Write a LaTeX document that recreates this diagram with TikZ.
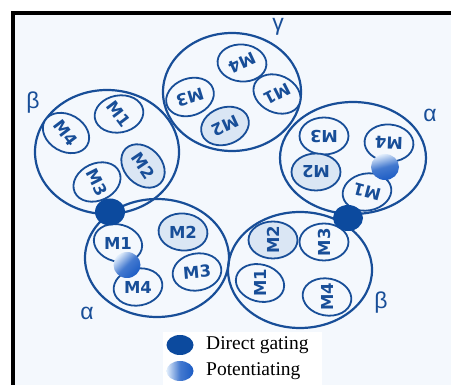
\documentclass[tikz,border=0pt]{standalone}
\usepackage{fontspec}
\setmainfont{Liberation Serif}
\newfontfamily\mfont{DejaVu Sans}
\newfontfamily\gfont{Liberation Sans}
\usetikzlibrary{shapes.geometric}
\definecolor{cblue}{RGB}{24,78,152}
\definecolor{mfill}{RGB}{218,230,244}
\definecolor{bgc}{RGB}{244,248,253}
\definecolor{dgc}{RGB}{12,74,158}
\definecolor{ptdark}{RGB}{28,92,196}
\definecolor{ptlight}{RGB}{226,238,252}
\newcommand{\rtxt}[2]{\makebox[0pt]{\smash{\rotatebox[origin=c]{#1}{\raisebox{-0.5\height}{#2}}}}}
\tikzset{
  bigc/.style={ellipse, draw=cblue, line width=2.2pt, inner sep=0pt},
  mell/.style={ellipse, draw=cblue, line width=1.8pt, fill=bgc, inner sep=0pt, minimum width=49pt, minimum height=37pt,
     font=\mfont\bfseries\fontsize{16.5}{16.5}\selectfont, text=cblue},
  mfilled/.style={mell, fill=mfill},
  glabel/.style={font=\gfont\fontsize{23}{23}\selectfont, text=cblue, inner sep=0pt},
  dgdot/.style={ellipse, fill=dgc, draw=none, inner sep=0pt},
  ptdot/.style={ellipse, draw=none, inner sep=0pt, left color=ptlight, right color=ptdark, middle color=ptdark!80!ptlight},
  legtext/.style={font=\fontsize{19.5}{19.5}\selectfont, anchor=west, inner sep=0pt}
}
\begin{document}
\begin{tikzpicture}[x=1pt,y=-1pt]
\useasboundingbox (0,0) rectangle (451,385);
\fill[white] (0,0) rectangle (451,385);
\fill[bgc] (13,13) rectangle (451,385);
\draw[line width=3.8pt, black] (13,385) -- (13,13) -- (451,13);
\fill[white] (163,332) rectangle (322,385);

% big subunits
\node[bigc, minimum width=144pt, minimum height=124pt] (bTL) at (107,152) {};
\node[bigc, minimum width=138pt, minimum height=118pt] (gT) at (232,92) {};
\node[bigc, minimum width=146pt, minimum height=112pt] (aR) at (353,158) {};
\node[bigc, minimum width=144pt, minimum height=118pt] (aBL) at (157,258) {};
\node[bigc, minimum width=144pt, minimum height=116pt] (bBR) at (300,270) {};

% beta top-left
\node[mell, rotate=10] (b1M1) at (119,114) {\rtxt{-63}{M1}};
\node[mell, rotate=-30] (b1M4) at (66,133) {\rtxt{-23}{M4}};
\node[mfilled, rotate=-45] (b1M2) at (143,166) {\rtxt{-11}{M2}};
\node[mell, rotate=25] (b1M3) at (97,182) {\rtxt{-88}{M3}};

% gamma
\node[mell, rotate=-5] (gM4) at (242,63) {\rtxt{210}{M4}};
\node[mell, rotate=20] (gM3) at (190,97) {\rtxt{177}{M3}};
\node[mell, rotate=-25] (gM1) at (277,94) {\rtxt{232}{M1}};
\node[mfilled, rotate=20] (gM2) at (225,126) {\rtxt{185}{M2}};

% alpha right
\node[mell] (a1M3) at (324,136) {\rtxt{180}{M3}};
\node[mell, rotate=-5] (a1M4) at (389,143) {\rtxt{183}{M4}};
\node[mfilled] (a1M2) at (316,172) {\rtxt{180}{M2}};
\node[mell, rotate=10] (a1M1) at (367,192) {\rtxt{155}{M1}};

% alpha bottom-left
\node[mell, rotate=-15] (a2M1) at (118,243) {\rtxt{15}{M1}};
\node[mfilled, rotate=-5] (a2M2) at (183,232) {\rtxt{5}{M2}};
\node[mell, rotate=10] (a2M3) at (197,272) {\rtxt{-5}{M3}};
\node[mell, rotate=10] (a2M4) at (138,287) {\rtxt{-10}{M4}};

% beta bottom-right
\node[mfilled] (b2M2) at (273,240) {\rtxt{90}{M2}};
\node[mell] (b2M3) at (324,242) {\rtxt{90}{M3}};
\node[mell, rotate=-15] (b2M1) at (260,283) {\rtxt{105}{M1}};
\node[mell, rotate=-10] (b2M4) at (327,297) {\rtxt{100}{M4}};

% binding sites
\node[dgdot, minimum width=30pt, minimum height=27pt] (dg1) at (110,212) {};
\node[dgdot, minimum width=30pt, minimum height=26pt] (dg2) at (348,218) {};
\node[ptdot, shading angle=45, minimum width=27pt, minimum height=26pt] (pt1) at (127,265) {};
\node[ptdot, shading angle=15, minimum width=28pt, minimum height=26pt] (pt2) at (385,167) {};

% subunit labels
\node[glabel] (lb1) at (33,103) {β};
\node[glabel] (lgm) at (278,27) {γ};
\node[glabel] (la1) at (430,115) {α};
\node[glabel] (la2) at (87,313) {α};
\node[glabel] (lb2) at (381,303) {β};

% legend
\node[dgdot, minimum width=27pt, minimum height=20pt] (lg1) at (180,345) {};
\node[ptdot, minimum width=27pt, minimum height=20pt] (lg2) at (180,371) {};
\node[legtext] (lt1) at (206,345) {Direct gating};
\node[legtext] (lt2) at (206,371) {Potentiating};
\end{tikzpicture}
\end{document}
